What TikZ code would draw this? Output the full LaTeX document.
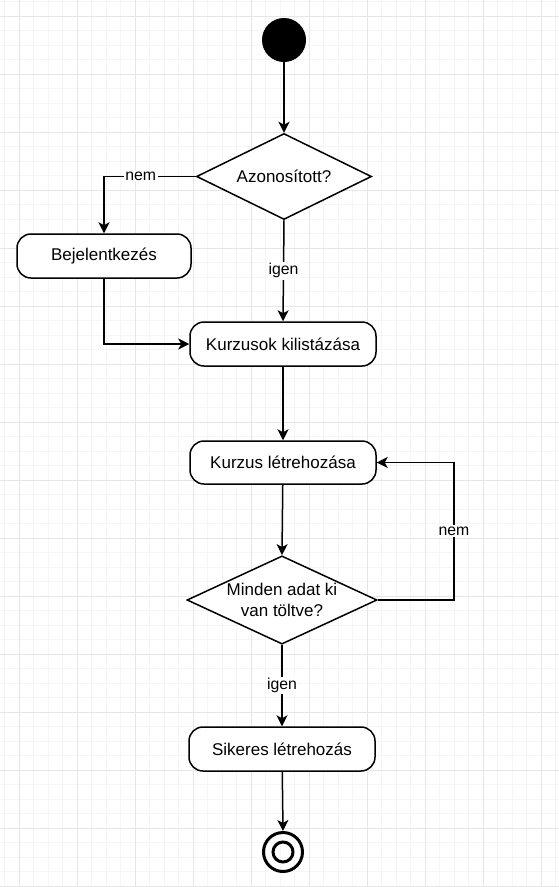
\documentclass[tikz,border=0pt]{standalone}
\usepackage{fontspec}
\setmainfont{Liberation Sans}
\usetikzlibrary{shapes.geometric,arrows.meta}
\definecolor{minorg}{HTML}{F5F5F5}
\definecolor{majorg}{HTML}{E6E6E6}
\begin{document}
\begin{tikzpicture}[x=1pt,y=-1pt,
  minorgrid/.style={draw=minorg,line width=0.9pt},
  majorgrid/.style={draw=majorg,line width=1pt},
  act/.style={rectangle,draw,line width=1.5pt,rounded corners=14pt,minimum width=186pt,minimum height=44pt,fill=white,font=\fontsize{17}{20}\selectfont,inner sep=2pt},
  dec/.style={diamond,draw,line width=1.5pt,fill=white,minimum width=175pt,minimum height=86pt,inner sep=0pt,aspect=2,font=\fontsize{17}{20.5}\selectfont,align=center},
  flow/.style={line width=1.5pt,-{Stealth[length=11pt,width=11pt,inset=3pt]}},
  lbl/.style={fill=white,inner sep=1.5pt,font=\fontsize{15.8}{18}\selectfont},
  startc/.style={circle,fill=black,draw=black,line width=1pt,minimum size=43pt,inner sep=0pt},
  endc/.style={circle,draw=black,line width=3pt,inner sep=0pt}
]
\useasboundingbox (0,0) rectangle (559,887);
\fill[white] (0,0) rectangle (559,887);
\begin{scope}
\clip (0,0) rectangle (559,887);
\foreach \i in {0,...,38} {\draw[minorgrid] ({4.5+14.5*\i},0) -- ({4.5+14.5*\i},887);}
\foreach \i in {0,...,61} {\draw[minorgrid] (0,{1.5+14.5*\i}) -- (559,{1.5+14.5*\i});}
\foreach \i in {0,...,9} {\draw[majorgrid] ({19+58*\i},0) -- ({19+58*\i},887);}
\foreach \i in {0,...,15} {\draw[majorgrid] (0,{16+58*\i}) -- (559,{16+58*\i});}
\end{scope}

\node[startc] (start) at (284,40) {};
\node[dec] (d1) at (284,176.5) {Azonosított?};
\node[act,minimum width=174pt] (bej) at (104,256) {Bejelentkezés};
\node[act] (kurz) at (283,344) {Kurzusok kilistázása};
\node[act,minimum height=43pt] (letre) at (283,462.5) {Kurzus létrehozása};
\node[dec,minimum width=190pt,minimum height=86pt] (d2) at (282,600) {Minden adat ki\\van töltve?};
\node[act] (sik) at (282,749) {Sikeres létrehozás};
\node[endc,minimum size=39pt] (end) at (283,852) {};
\node[endc,minimum size=20pt] (endin) at (end.center) {};
\coordinate (lc) at (454,462.5);

\draw[flow] (start) -- (d1.north);
\draw[flow] (d1.west) -| node[lbl,pos=0.3] {nem} (bej.north);
\draw[flow] (d1.south) -- node[lbl] {igen} (kurz.north);
\draw[flow] (bej.south) |- (kurz.west);
\draw[flow] (kurz) -- (letre);
\draw[flow] (letre) -- (d2.north);
\draw[flow] (d2.east) -| node[lbl,pos=0.75] {nem} (lc) -- (letre.east);
\draw[flow] (d2.south) -- node[lbl] {igen} (sik.north);
\draw[flow] (sik) -- (end.north);
\end{tikzpicture}
\end{document}
